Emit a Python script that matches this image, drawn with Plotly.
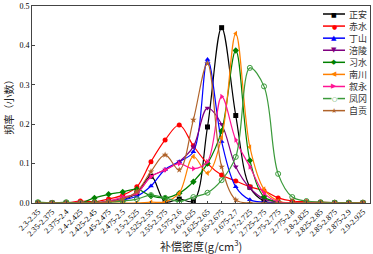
import plotly.graph_objects as go

categories = ["2.3-2.35", "2.35-2.375", "2.375-2.4", "2.4-2.425", "2.425-2.45", "2.45-2.475",
              "2.475-2.5", "2.5-2.525", "2.525-2.55", "2.55-2.575", "2.575-2.6", "2.6-2.625",
              "2.625-2.65", "2.65-2.675", "2.675-2.7", "2.7-2.725", "2.725-2.75", "2.75-2.775",
              "2.775-2.8", "2.8-2.825", "2.825-2.85", "2.85-2.875", "2.875-2.9", "2.9-2.925"]

zhengan = [0, 0, 0, 0, 0, 0.003, 0.008, 0.025, 0.068, 0.003, 0.01, 0.005, 0.193, 0.445, 0.222, 0.04, 0.005, 0, 0, 0, 0, 0, 0, 0]
chishui = [0, 0, 0, 0.005, 0.003, 0.01, 0.02, 0.041, 0.105, 0.16, 0.198, 0.145, 0.1, 0.071, 0.056, 0.041, 0.031, 0.013, 0.005, 0.003, 0.002, 0.001, 0.001, 0.001]
dingshan = [0, 0, 0, 0, 0, 0.003, 0.008, 0.017, 0.043, 0.085, 0.105, 0.13, 0.364, 0.156, 0.041, 0.008, 0.002, 0, 0, 0, 0, 0, 0, 0]
fuling = [0, 0, 0, 0, 0, 0.005, 0.012, 0.025, 0.067, 0.084, 0.105, 0.143, 0.241, 0.2, 0.092, 0.038, 0.01, 0.002, 0, 0, 0, 0, 0, 0]
xishui = [0, 0, 0, 0, 0.013, 0.022, 0.028, 0.035, 0.018, 0.013, 0.025, 0.054, 0.1, 0.183, 0.387, 0.108, 0.016, 0.003, 0, 0, 0, 0, 0, 0]
nanchuan = [0, 0, 0, 0, 0, 0, 0, 0, 0.002, 0.003, 0.025, 0.118, 0.076, 0.166, 0.43, 0.142, 0.035, 0.005, 0, 0, 0, 0, 0, 0]
xuyong = [0, 0, 0, 0.002, 0, 0.005, 0.015, 0.025, 0.067, 0.084, 0.1, 0.087, 0.105, 0.27, 0.16, 0.092, 0.025, 0.003, 0, 0, 0, 0, 0, 0]
fenggang = [0.002, 0, 0.002, 0, 0.002, 0.002, 0.005, 0.01, 0.02, 0.013, 0.004, 0.015, 0.026, 0.058, 0.117, 0.343, 0.296, 0.074, 0.015, 0.005, 0.002, 0.001, 0.001, 0.001]
zigong = [0, 0, 0, 0, 0, 0.003, 0.01, 0.029, 0.08, 0.122, 0.084, 0.211, 0.354, 0.092, 0.008, 0, 0, 0, 0, 0, 0, 0, 0, 0.001]

series_names = ["正安", "赤水", "丁山", "涪陵", "习水", "南川", "叙永", "凤冈", "自贡"]
series_values = [zhengan, chishui, dingshan, fuling, xishui, nanchuan, xuyong, fenggang, zigong]
series_colors = ["#000000", "#FF0000", "#0000FF", "#800080", "#008000", "#FF8000", "#FF1493", "#3A9A3A", "#B0632A"]
series_symbols = ["square", "circle", "triangle-up", "triangle-down", "diamond", "triangle-left", "triangle-right", "circle-open", "star"]
legend_glyphs = ["■", "●", "▲", "▼", "◆", "◀", "▶", "○", "★"]

# plot-area geometry (pixels) used to place the compact legend
W, H = 373, 254
ML, MR, MT, MB = 32, 3, 6, 51
PW, PH = W - ML - MR, H - MT - MB

def px2x(px):
    return (px - ML) / PW

def py2y(py):
    return (H - MB - py) / PH

fig = go.Figure()
for name, vals, color, sym in zip(series_names, series_values, series_colors, series_symbols):
    fig.add_trace(go.Scatter(
        x=categories, y=vals, name=name, mode="lines+markers",
        line=dict(color=color, width=1.2, shape="spline", smoothing=1.0),
        marker=dict(symbol=sym, size=5, color=color,
                    line=dict(color=color, width=1) if sym == "circle-open" else dict(width=0)),
    ))

serif = "Liberation Serif, Times New Roman, serif"
cjk = "Noto Sans CJK SC"

shapes = []
annotations = [
    dict(text="补偿密度(g/cm<sup>3</sup>)", xref="paper", yref="paper", x=0.5, y=py2y(245),
         xanchor="center", yanchor="middle", showarrow=False,
         font=dict(family=cjk, size=11, color="#222")),
    dict(text="频率（小数）", xref="paper", yref="paper", x=px2x(8), y=0.5,
         xanchor="center", yanchor="middle", textangle=-90, showarrow=False,
         font=dict(family=cjk, size=10, color="#222")),
]
for i, (name, color, glyph) in enumerate(zip(series_names, series_colors, legend_glyphs)):
    ry = 14 + 12.08 * i
    shapes.append(dict(type="line", xref="paper", yref="paper",
                       x0=px2x(323), x1=px2x(345), y0=py2y(ry), y1=py2y(ry),
                       line=dict(color=color, width=1.5)))
    gsize = 6 if glyph in ("■", "●", "○") else 7
    g = dict(text=glyph, xref="paper", yref="paper", x=px2x(334), y=py2y(ry),
             xanchor="center", yanchor="middle", showarrow=False, borderpad=0,
             font=dict(family="DejaVu Sans", size=gsize, color=color))
    if glyph == "○":
        g["bgcolor"] = "white"
    annotations.append(g)
    annotations.append(dict(text=name, xref="paper", yref="paper", x=px2x(348), y=py2y(ry),
                            xanchor="left", yanchor="middle", showarrow=False, borderpad=0,
                            font=dict(family=cjk, size=9, color="#333")))

fig.update_layout(
    width=W, height=H,
    margin=dict(l=ML, r=MR, t=MT, b=MB, autoexpand=False),
    paper_bgcolor="white", plot_bgcolor="white",
    font=dict(family=serif, size=8, color="black"),
    showlegend=False,
    hovermode=False,
    xaxis=dict(
        type="category", range=[-0.42, 23.5], automargin=False,
        tickangle=-45, tickfont=dict(family=serif, size=8, color="black"),
        ticks="inside", ticklen=2, showgrid=False,
        showline=True, linecolor="#444", linewidth=1, mirror=True,
    ),
    yaxis=dict(
        range=[0, 0.5], dtick=0.1, tickformat=".1f", automargin=False,
        tickfont=dict(family=serif, size=8, color="black"),
        ticks="inside", ticklen=3, showgrid=False, zeroline=False,
        showline=True, linecolor="#444", linewidth=1, mirror=True,
    ),
    shapes=shapes,
    annotations=annotations,
)

fig.write_html("out.html", config={"displayModeBar": False, "staticPlot": True},
               post_script="document.body.style.margin='0';document.body.style.padding='0';")
